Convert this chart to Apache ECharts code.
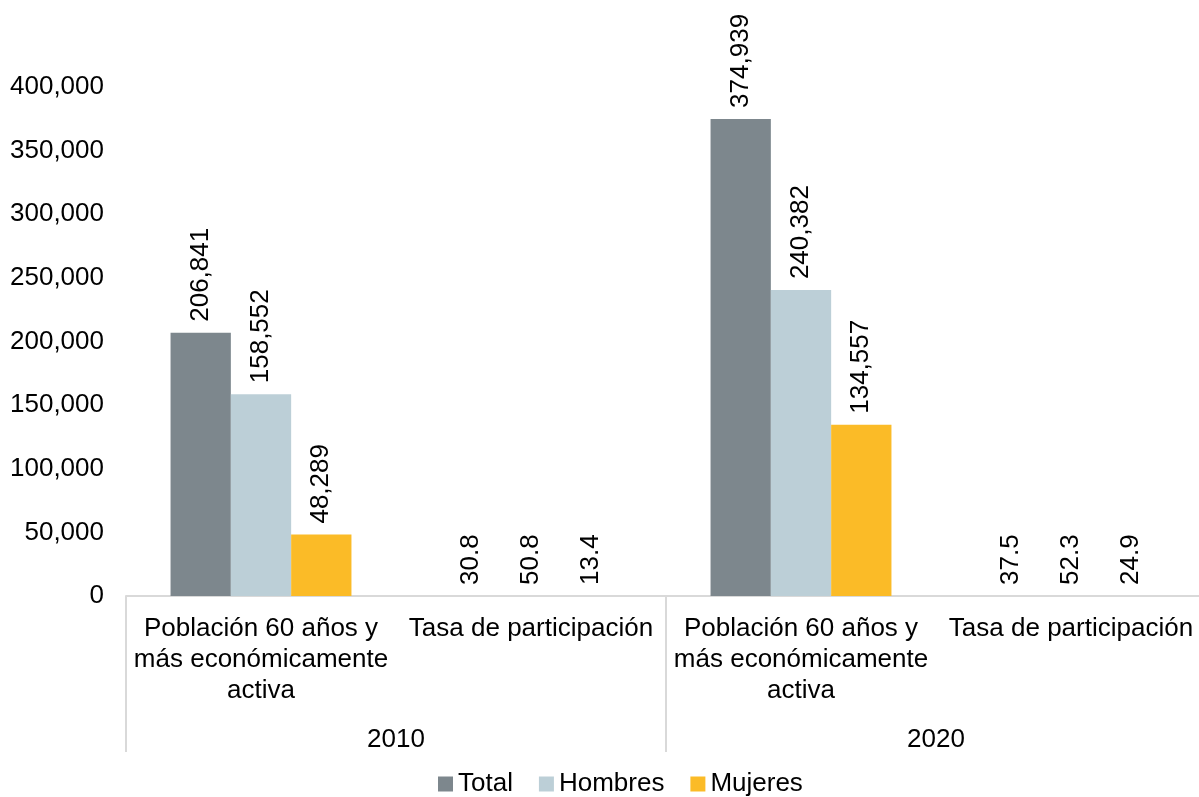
<!DOCTYPE html>
<html>
<head>
<meta charset="utf-8">
<script src="https://cdn.jsdelivr.net/npm/echarts@6/dist/echarts.min.js"></script>
<style>
html,body{margin:0;padding:0;background:#fff;overflow:hidden;}
#chart{width:1206px;height:797px;}
</style>
</head>
<body>
<div id="chart"></div>
<script>
const categories = [
  'Población 60 años y\nmás económicamente\nactiva',
  'Tasa de participación',
  'Población 60 años y\nmás económicamente\nactiva',
  'Tasa de participación'
];
const years = ['2010', '2020'];
const seriesNames = ['Total', 'Hombres', 'Mujeres'];
const totalValues = [206841, 30.8, 374939, 37.5];
const hombresValues = [158552, 50.8, 240382, 52.3];
const mujeresValues = [48289, 13.4, 134557, 24.9];
const yTicks = [0, 50000, 100000, 150000, 200000, 250000, 300000, 350000, 400000];

const colors = ['#7d878d', '#bccfd7', '#fbbb27'];
const FONT = 'Liberation Sans, Arial, sans-serif';

function fmt(v) {
  return Number(v).toLocaleString('en-US', {maximumFractionDigits: 1});
}

const dataSets = [totalValues, hombresValues, mujeresValues];

const chart = echarts.init(document.getElementById('chart'), null, {renderer: 'canvas'});
chart.setOption({
  animation: false,
  backgroundColor: '#ffffff',
  textStyle: {fontFamily: FONT},
  legend: {
    data: seriesNames,
    left: 433,
    top: 766,
    itemWidth: 15,
    itemHeight: 15,
    itemGap: 26,
    icon: 'rect',
    textStyle: {fontSize: 26, color: '#000', fontFamily: FONT}
  },
  grid: {left: 126, right: 0, top: 87, height: 509, containLabel: false},
  xAxis: [
    {
      type: 'category',
      data: categories,
      position: 'bottom',
      axisLine: {show: true, lineStyle: {color: '#d9d9d9', width: 2}},
      axisTick: {show: false},
      axisLabel: {
        interval: 0,
        fontSize: 26,
        color: '#000',
        fontFamily: FONT,
        lineHeight: 31,
        margin: 17,
        align: 'center'
      }
    },
    {
      type: 'category',
      data: years,
      position: 'bottom',
      axisLine: {show: false},
      axisTick: {show: true, length: 156, lineStyle: {color: '#d9d9d9', width: 2}},
      axisLabel: {
        interval: 0,
        fontSize: 26,
        color: '#000',
        fontFamily: FONT,
        margin: 131
      }
    }
  ],
  yAxis: {
    type: 'value',
    min: 0,
    max: 400000,
    interval: 50000,
    axisLine: {show: false},
    axisTick: {show: false},
    splitLine: {show: false},
    axisLabel: {
      fontSize: 26,
      color: '#000',
      fontFamily: FONT,
      margin: 22,
      formatter: v => yTicks.includes(v) ? fmt(v) : ''
    }
  },
  series: seriesNames.map((name, i) => ({
    name: name,
    type: 'bar',
    xAxisIndex: 0,
    data: dataSets[i],
    barGap: '0%',
    barCategoryGap: '33%',
    itemStyle: {color: colors[i]},
    label: {
      show: true,
      position: 'top',
      rotate: 90,
      align: 'left',
      verticalAlign: 'middle',
      distance: 11,
      fontSize: 26,
      color: '#000',
      fontFamily: FONT,
      formatter: p => fmt(p.value)
    }
  }))
});
</script>
</body>
</html>
